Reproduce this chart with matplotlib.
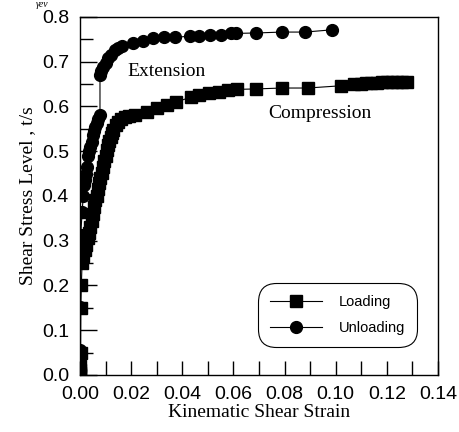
import matplotlib
matplotlib.use("Agg")
import matplotlib.pyplot as plt
from matplotlib.ticker import MultipleLocator, FormatStrFormatter

# loading (compression) branch
loading_strain = [0.0, 0.0, 0.0, 0.0, 0.0002, 0.0003, 0.0005, 0.0008, 0.0012, 0.0018,
                  0.0025, 0.003, 0.0035, 0.004, 0.0045, 0.005, 0.0055, 0.006, 0.0065, 0.007,
                  0.0075, 0.008, 0.0085, 0.009, 0.0095, 0.010, 0.0105, 0.011, 0.0115, 0.012,
                  0.0125, 0.013, 0.014, 0.015, 0.016, 0.0175, 0.019,
                  0.0214, 0.026, 0.030, 0.034, 0.0377, 0.0436, 0.0467, 0.0506, 0.0545, 0.058,
                  0.0615, 0.069, 0.079, 0.089, 0.102, 0.107, 0.110, 0.112, 0.114, 0.116,
                  0.118, 0.120, 0.122, 0.124, 0.126, 0.128]
loading_stress = [0.0, 0.005, 0.01, 0.02, 0.05, 0.15, 0.20, 0.25, 0.265, 0.28,
                  0.29, 0.305, 0.317, 0.33, 0.345, 0.36, 0.375, 0.39, 0.40, 0.415,
                  0.428, 0.44, 0.452, 0.465, 0.478, 0.49, 0.502, 0.513, 0.523, 0.532,
                  0.54, 0.548, 0.558, 0.566, 0.572, 0.576, 0.578,
                  0.581, 0.588, 0.597, 0.603, 0.61, 0.621, 0.625, 0.630, 0.633, 0.636,
                  0.638, 0.639, 0.641, 0.641, 0.646, 0.650, 0.651, 0.652, 0.653, 0.653,
                  0.654, 0.654, 0.654, 0.655, 0.655, 0.655]

# unloading (extension) branch
unloading_strain = [0.0, 0.0, 0.0, 0.0, 0.0003, 0.0008, 0.0013, 0.0016, 0.002, 0.0023,
                    0.0026, 0.003, 0.0035, 0.004, 0.0045, 0.005, 0.0055, 0.006, 0.0065, 0.007,
                    0.0078, 0.0078, 0.0082, 0.009, 0.010, 0.011, 0.012, 0.0136, 0.015, 0.0163,
                    0.0206, 0.0245, 0.0285, 0.033, 0.037, 0.043, 0.0467, 0.051, 0.055, 0.059,
                    0.061, 0.069, 0.079, 0.088, 0.0985]
unloading_stress = [0.01, 0.055, 0.152, 0.26, 0.313, 0.365, 0.40, 0.425, 0.436, 0.45,
                    0.465, 0.49, 0.50, 0.51, 0.52, 0.535, 0.545, 0.555, 0.563, 0.572,
                    0.581, 0.670, 0.678, 0.689, 0.698, 0.708, 0.715, 0.726, 0.731, 0.735,
                    0.742, 0.745, 0.752, 0.754, 0.754, 0.757, 0.757, 0.760, 0.760, 0.763,
                    0.763, 0.764, 0.766, 0.766, 0.771]

sans = "Liberation Sans"
serif = "Liberation Serif"

fig = plt.figure(figsize=(4.6, 4.32), dpi=100)
ax = fig.add_axes([0.174, 0.132, 0.778, 0.829])

ax.plot(loading_strain, loading_stress, color="black", lw=0.8, marker="s",
        markersize=9, label="Loading")
ax.plot(unloading_strain, unloading_stress, color="black", lw=0.8, marker="o",
        markersize=8.5, label="Unloading")

ax.set_xlim(0, 0.14)
ax.set_ylim(0, 0.8)
ax.xaxis.set_major_locator(MultipleLocator(0.02))
ax.xaxis.set_minor_locator(MultipleLocator(0.01))
ax.yaxis.set_major_locator(MultipleLocator(0.1))
ax.yaxis.set_minor_locator(MultipleLocator(0.05))
ax.xaxis.set_major_formatter(FormatStrFormatter("%.2f"))
ax.yaxis.set_major_formatter(FormatStrFormatter("%.1f"))
ax.tick_params(axis="x", which="both", direction="in", length=10, width=1, pad=8)
ax.tick_params(axis="y", which="major", direction="in", length=12, width=1, pad=8)
ax.tick_params(axis="y", which="minor", direction="in", length=9, width=1)
for lab in ax.get_xticklabels() + ax.get_yticklabels():
    lab.set_fontfamily(sans)
    lab.set_fontsize(14)
for sp in ax.spines.values():
    sp.set_linewidth(1)

ax.set_xlabel("Kinematic Shear Strain", fontfamily=serif, fontsize=14, labelpad=1)
ax.set_ylabel("Shear Stress Level , t/s", fontfamily=serif, fontsize=14, labelpad=4)

ax.text(0.034, 0.677, "Extension", fontfamily=serif, fontsize=14, ha="center", va="center")
ax.text(0.094, 0.585, "Compression", fontfamily=serif, fontsize=14, ha="center", va="center")

fig.text(0.078, 0.999, "γev", fontfamily=serif, fontsize=7, style="italic", va="top")

leg = ax.legend(loc="lower right", bbox_to_anchor=(0.93, 0.089), borderaxespad=0,
                prop={"family": sans, "size": 10.5}, handlelength=3.6,
                handletextpad=1.1, labelspacing=0.8, borderpad=0.55,
                frameon=True, fancybox=True, framealpha=1, edgecolor="black")
leg.get_frame().set_linewidth(0.8)
leg.get_frame().set_boxstyle("round,pad=0.3,rounding_size=1.3")

fig.savefig("out.png", dpi=100)
